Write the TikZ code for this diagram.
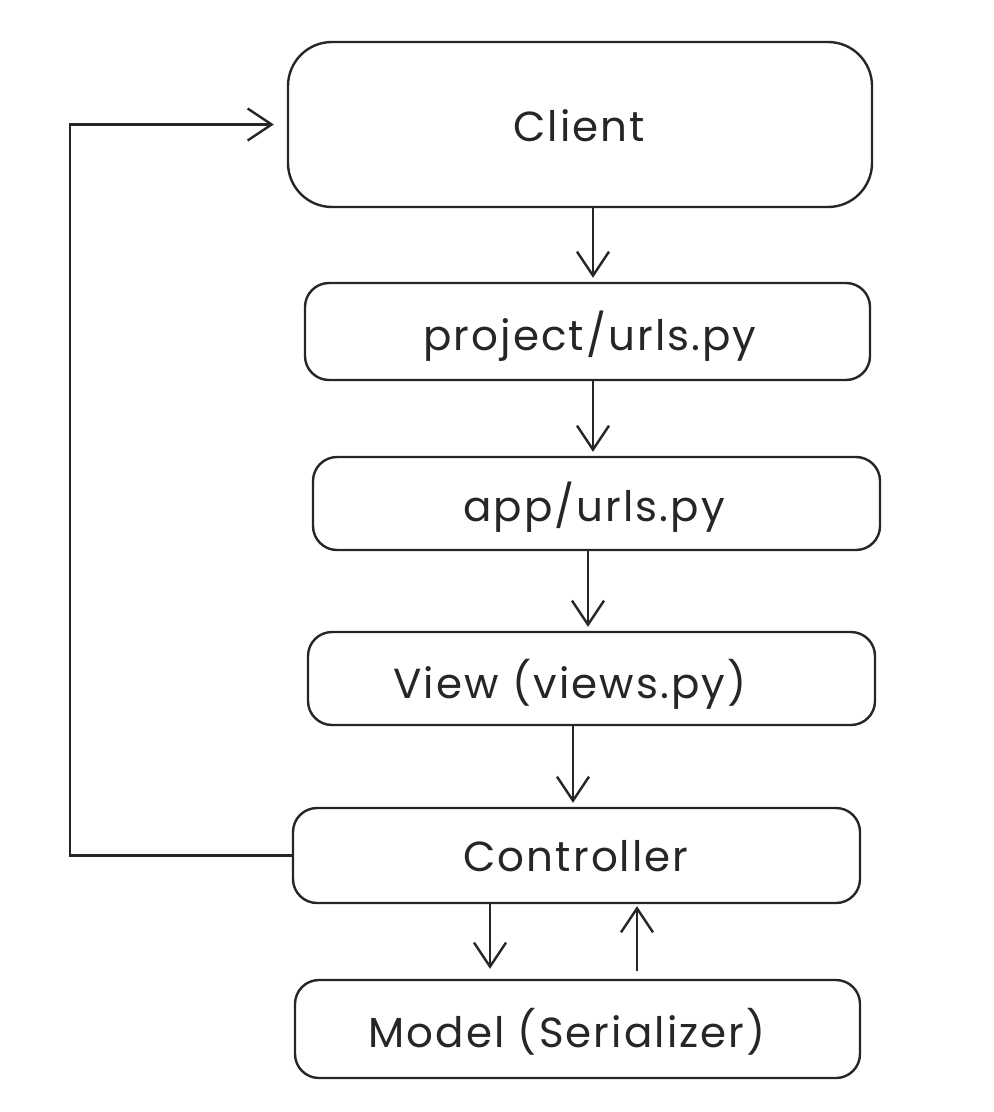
\documentclass[tikz,border=0pt]{standalone}
\usepackage{fontspec}
\setmainfont{Poppins}[LetterSpace=5]
\usetikzlibrary{arrows.meta}
\definecolor{ink}{HTML}{262626}
\tikzset{
  box/.style={draw=ink, line width=1.2pt, rounded corners=12pt, inner sep=0pt},
  lbl/.style={font=\fontsize{21}{24}\selectfont, text=ink, inner sep=0pt},
  arr/.style={draw=ink, line width=1.2pt, -{Straight Barb[length=12pt,width=16pt,line width=1.2pt]}, shorten >=2pt}
}
\begin{document}
\begin{tikzpicture}[x=0.5pt,y=-0.5pt]
\useasboundingbox (0,0) rectangle (994,1112);
\node[box, rounded corners=22pt, minimum width=292pt, minimum height=82.5pt] (client) at (580,124.5) {};
\node[box, minimum width=282.5pt, minimum height=48.5pt] (proj) at (587.5,331.5) {};
\node[box, minimum width=283.5pt, minimum height=46.5pt] (app) at (596.5,503.5) {};
\node[box, minimum width=283.5pt, minimum height=46.5pt] (view) at (591.5,678.5) {};
\node[box, minimum width=283.5pt, minimum height=47.5pt] (ctrl) at (576.5,855.5) {};
\node[box, minimum width=282.5pt, minimum height=49pt] (model) at (577.5,1029) {};
\node[lbl] (clienttxt) at (579,126) {Client};
\node[lbl] (projtxt) at (590,336) {project/urls.py};
\node[lbl] (apptxt) at (594,507) {app/urls.py};
\node[lbl] (viewtxt) at (570,684) {View (views.py)};
\node[lbl] (ctrltxt) at (576,856) {Controller};
\node[lbl] (modeltxt) at (567,1032) {Model (Serializer)};
\draw[arr] (client.south -| 593,0) -- (proj.north -| 593,0);
\draw[arr] (proj.south -| 593,0) -- (app.north -| 593,0);
\draw[arr] (app.south -| 588,0) -- (view.north -| 588,0);
\draw[arr] (view.south -| 573,0) -- (ctrl.north -| 573,0);
\draw[arr, shorten >=5pt] (ctrl.south -| 490,0) -- (model.north -| 490,0);
\draw[arr, shorten >=1pt, shorten <=4pt] (model.north -| 637,0) -- (ctrl.south -| 637,0);
\draw[arr, shorten >=6.5pt] (ctrl.west) -- (70,855.5) |- (client.west);
\end{tikzpicture}
\end{document}
